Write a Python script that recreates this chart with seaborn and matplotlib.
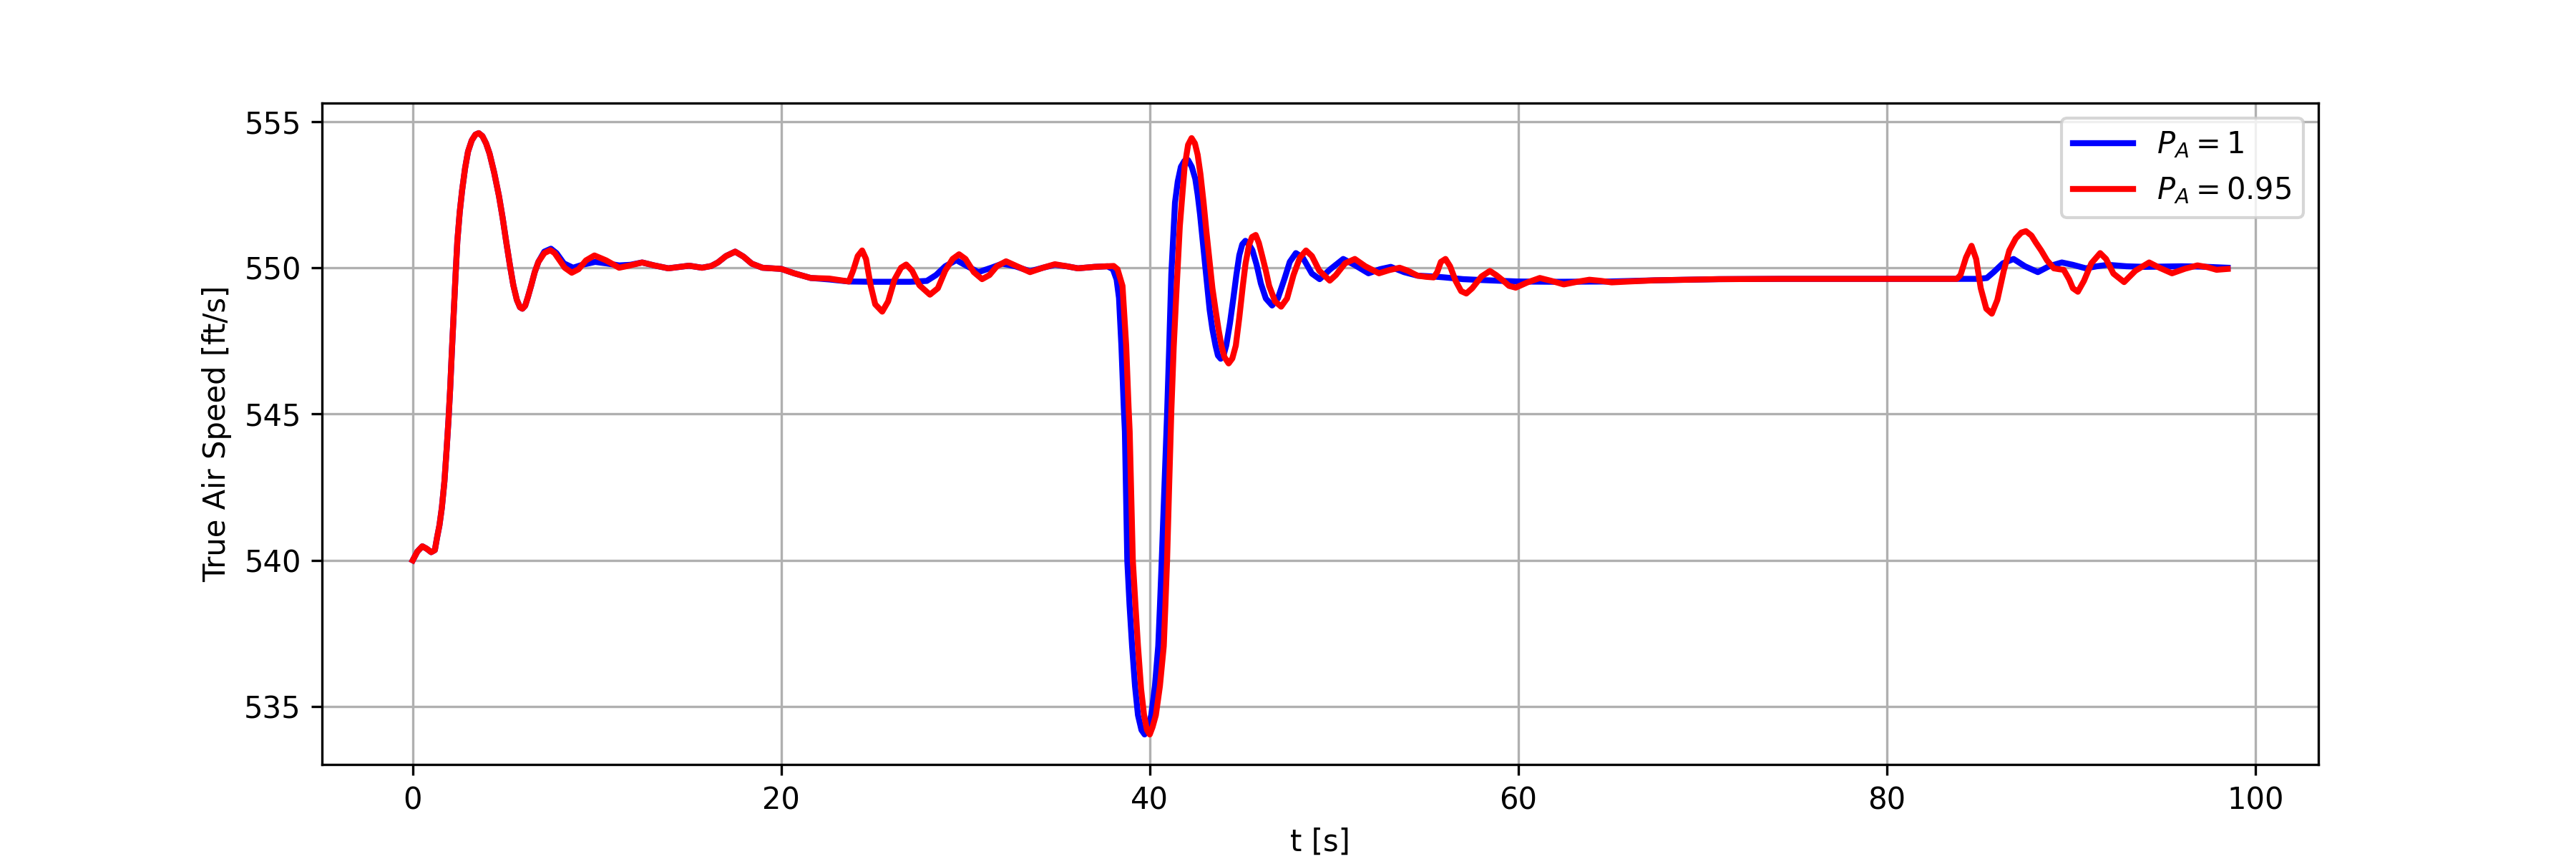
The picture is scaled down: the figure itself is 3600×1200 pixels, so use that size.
import matplotlib
matplotlib.use("Agg")
import matplotlib.pyplot as plt
import seaborn as sns

# True air speed response
# common start (both cases identical up to ~7 s)
t_start = [0.0, 0.25, 0.52, 0.75, 1.0, 1.2, 1.32, 1.45, 1.58, 1.72, 1.84, 1.94,
           2.03, 2.12, 2.22, 2.32, 2.42, 2.55, 2.68, 2.84, 3.0, 3.2, 3.4, 3.58,
           3.78, 3.98, 4.17, 4.42, 4.68, 4.88, 5.07, 5.27, 5.46, 5.65, 5.82, 5.95,
           6.1, 6.25, 6.43, 6.62, 6.82]
v_start = [540.0, 540.3, 540.48, 540.4, 540.28, 540.35, 540.78, 541.2, 541.8, 542.7,
           543.8, 544.8, 545.85, 547.1, 548.4, 549.7, 550.9, 551.9, 552.65, 553.4,
           553.97, 554.35, 554.55, 554.6, 554.5, 554.25, 553.9, 553.25, 552.45,
           551.7, 550.9, 550.1, 549.4, 548.9, 548.65, 548.6, 548.7, 549.0, 549.4,
           549.85, 550.2]

# P_A = 1
t_blue_tail = [7.14, 7.5, 7.8, 8.2, 8.7, 9.2, 9.9, 10.5, 11.2, 11.8, 12.45, 13.1,
               13.87, 14.5, 15.0, 15.7, 16.2, 16.56, 17.0, 17.5, 17.95, 18.4, 18.98,
               20.0, 20.7, 21.6, 22.6, 23.67, 25.0, 27.0, 27.9, 28.4, 28.9, 29.5,
               30.1, 30.7, 31.4, 32.0, 32.7, 33.5, 34.2, 34.85, 35.5, 36.1, 37.0,
               37.7, 38.0, 38.2, 38.33, 38.46, 38.59, 38.65, 38.78, 38.9, 39.04,
               39.2, 39.36, 39.55, 39.72, 39.9, 40.08, 40.28, 40.46, 40.55, 40.65,
               40.8, 40.94, 41.05, 41.17, 41.37, 41.52, 41.69, 41.88, 42.08, 42.28,
               42.47, 42.6, 42.73, 42.86, 42.99, 43.12, 43.25, 43.4, 43.57, 43.7,
               43.85, 44.0, 44.15, 44.35, 44.54, 44.7, 44.86, 45.02, 45.19, 45.38,
               45.57, 45.8, 46.03, 46.3, 46.64, 46.95, 47.3, 47.6, 47.93, 48.3,
               48.8, 49.22, 49.8, 50.5, 51.1, 51.87, 52.5, 53.08, 53.8, 54.53,
               55.4, 56.0, 57.0, 58.0, 59.96, 62.0, 65.0, 67.4, 70.88, 74.3, 80.0,
               85.0, 85.43, 85.8, 86.3, 86.88, 87.5, 88.2, 88.8, 89.5, 90.1, 90.8,
               91.4, 92.0, 93.0, 94.0, 95.0, 96.0, 97.0, 98.5]
v_blue_tail = [550.55, 550.65, 550.5, 550.15, 550.0, 550.1, 550.2, 550.15, 550.08,
               550.1, 550.18, 550.08, 549.98, 550.03, 550.07, 550.0, 550.06, 550.18,
               550.4, 550.55, 550.38, 550.14, 550.0, 549.96, 549.81, 549.65, 549.6,
               549.53, 549.52, 549.52, 549.55, 549.75, 550.05, 550.26, 550.05,
               549.85, 550.0, 550.14, 550.05, 549.88, 550.0, 550.1, 550.05, 549.98,
               550.03, 550.05, 549.95, 549.6, 548.97, 547.34, 545.22, 544.4, 540.0,
               538.5, 537.07, 535.7, 534.71, 534.2, 534.05, 534.25, 534.71, 535.7,
               537.07, 538.4, 540.0, 542.6, 545.0, 547.2, 549.78, 552.23, 552.95,
               553.45, 553.65, 553.68, 553.45, 553.04, 552.5, 551.82, 551.0, 550.19,
               549.35, 548.56, 547.9, 547.34, 547.0, 546.89, 547.0, 547.34, 548.1,
               548.97, 549.75, 550.43, 550.8, 550.92, 550.8, 550.6, 550.1, 549.46,
               548.95, 548.71, 548.95, 549.6, 550.2, 550.5, 550.35, 549.8, 549.61,
               549.95, 550.3, 550.1, 549.81, 549.95, 550.03, 549.85, 549.73, 549.7,
               549.67, 549.61, 549.58, 549.53, 549.52, 549.53, 549.57, 549.61,
               549.62, 549.62, 549.62, 549.65, 549.85, 550.15, 550.3, 550.05,
               549.85, 550.05, 550.18, 550.1, 549.98, 550.05, 550.1, 550.05, 550.03,
               550.04, 550.05, 550.04, 550.0]

# P_A = 0.95
t_red_tail = [7.14, 7.47, 7.7, 7.92, 8.25, 8.63, 9.0, 9.4, 9.86, 10.5, 11.2, 11.8,
              12.45, 13.1, 13.87, 14.5, 15.0, 15.7, 16.2, 16.56, 17.0, 17.5, 17.95,
              18.4, 18.98, 20.0, 20.7, 21.6, 22.6, 23.67, 23.9, 24.15, 24.39, 24.6,
              24.85, 25.1, 25.48, 25.8, 26.15, 26.5, 26.78, 27.1, 27.5, 28.07, 28.5,
              28.9, 29.3, 29.65, 30.0, 30.45, 30.9, 31.3, 31.7, 32.2, 32.8, 33.5,
              34.2, 34.85, 35.5, 36.1, 37.0, 38.04, 38.25, 38.52, 38.72, 38.85,
              38.91, 39.08, 39.22, 39.36, 39.53, 39.69, 39.85, 40.0, 40.15, 40.33,
              40.55, 40.76, 40.85, 40.94, 41.05, 41.17, 41.3, 41.43, 41.63, 41.89,
              42.08, 42.27, 42.45, 42.6, 42.75, 42.92, 43.08, 43.25, 43.4, 43.57,
              43.73, 43.89, 44.05, 44.28, 44.48, 44.67, 44.86, 45.05, 45.2, 45.38,
              45.55, 45.75, 45.92, 46.09, 46.3, 46.48, 46.8, 47.13, 47.45, 47.8,
              48.15, 48.48, 48.8, 49.2, 49.77, 50.1, 50.6, 51.13, 51.7, 52.44, 53.0,
              53.56, 54.0, 54.53, 55.0, 55.41, 55.6, 55.8, 56.05, 56.3, 56.6, 56.9,
              57.18, 57.5, 58.0, 58.46, 58.8, 59.16, 59.5, 59.86, 60.5, 61.17, 61.8,
              62.47, 63.2, 63.86, 64.5, 65.07, 66.0, 67.4, 70.88, 74.3, 80.0, 83.8,
              84.0, 84.3, 84.6, 84.85, 85.1, 85.4, 85.7, 86.0, 86.35, 86.65, 87.0,
              87.3, 87.55, 87.85, 88.1, 88.38, 88.7, 89.07, 89.35, 89.6, 89.9, 90.1,
              90.37, 90.7, 91.1, 91.58, 91.9, 92.3, 92.88, 93.5, 94.24, 94.8, 95.48,
              96.2, 96.86, 97.4, 97.9, 98.5]
v_red_tail = [550.5, 550.6, 550.5, 550.3, 550.0, 549.83, 549.95, 550.25, 550.42,
              550.25, 550.0, 550.08, 550.18, 550.08, 549.98, 550.03, 550.07, 550.0,
              550.06, 550.18, 550.4, 550.55, 550.38, 550.14, 550.0, 549.96, 549.81,
              549.65, 549.63, 549.53, 549.9, 550.4, 550.59, 550.3, 549.4, 548.75,
              548.5, 548.85, 549.6, 550.0, 550.11, 549.9, 549.4, 549.08, 549.3,
              549.9, 550.3, 550.46, 550.3, 549.85, 549.61, 549.75, 550.05, 550.22,
              550.05, 549.85, 550.0, 550.12, 550.05, 549.98, 550.03, 550.06, 549.95,
              549.38, 547.34, 545.22, 544.4, 540.0, 538.5, 537.07, 535.6, 534.71,
              534.2, 534.05, 534.3, 534.71, 535.7, 537.07, 538.5, 540.0, 542.5,
              545.1, 547.3, 548.97, 551.41, 553.45, 554.2, 554.43, 554.25, 553.86,
              553.2, 552.23, 551.2, 550.19, 549.3, 548.56, 547.9, 547.34, 546.95,
              546.73, 546.9, 547.34, 548.3, 549.38, 550.15, 550.76, 551.05, 551.12,
              550.85, 550.43, 549.9, 549.38, 548.85, 548.67, 548.95, 549.75, 550.35,
              550.59, 550.4, 549.9, 549.56, 549.75, 550.15, 550.3, 550.05, 549.81,
              549.92, 550.0, 549.9, 549.73, 549.69, 549.67, 549.85, 550.2, 550.3,
              550.05, 549.55, 549.2, 549.12, 549.3, 549.7, 549.89, 549.75, 549.57,
              549.38, 549.32, 549.5, 549.65, 549.55, 549.43, 549.52, 549.59, 549.55,
              549.5, 549.53, 549.57, 549.61, 549.62, 549.62, 549.62, 549.75, 550.35,
              550.75, 550.3, 549.3, 548.6, 548.43, 548.9, 549.9, 550.59, 551.0,
              551.2, 551.25, 551.1, 550.85, 550.59, 550.25, 549.98, 549.95, 549.93,
              549.6, 549.3, 549.18, 549.55, 550.15, 550.5, 550.3, 549.8, 549.51,
              549.9, 550.18, 550.0, 549.81, 549.97, 550.08, 550.02, 549.93, 549.96]

labels = [r"$P_A = 1$", r"$P_A = 0.95$"]

t_blue = t_start + t_blue_tail
v_blue = v_start + v_blue_tail
t_red = t_start + t_red_tail
v_red = v_start + v_red_tail

fig, ax = plt.subplots(figsize=(12, 4))

sns.lineplot(x=t_blue, y=v_blue, color="blue", linewidth=2, label=labels[0],
             estimator=None, ax=ax)
sns.lineplot(x=t_red, y=v_red, color="red", linewidth=2, label=labels[1],
             estimator=None, ax=ax)

ax.set_xlabel("t [s]")
ax.set_ylabel("True Air Speed [ft/s]")
ax.grid(True)
ax.legend(loc="upper right")

fig.savefig("out.png", dpi=300)
